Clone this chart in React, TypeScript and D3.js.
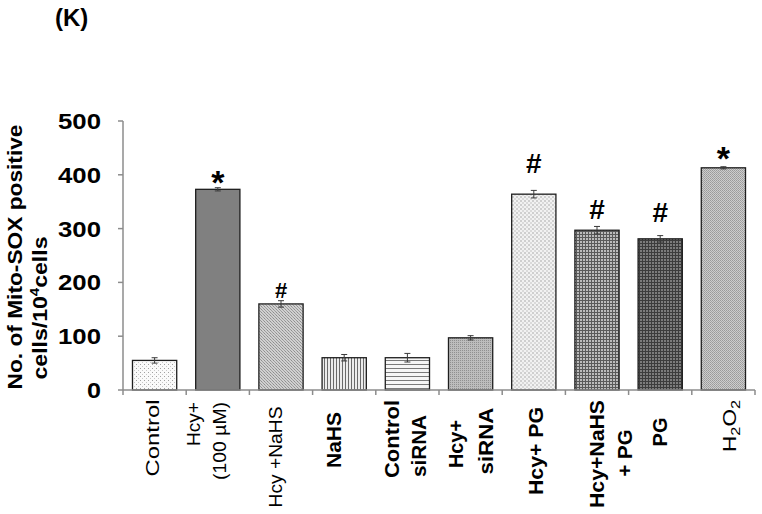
import * as d3 from "d3";
import { useEffect, useRef } from "react";

// values (K)
const categories = ["Control", "Hcy+ (100 µM)", "Hcy +NaHS", "NaHS", "Control siRNA", "Hcy+ siRNA", "Hcy+ PG", "Hcy+NaHS + PG", "PG", "H2O2"];
const values = [55, 373, 160, 60, 60, 97, 364, 297, 281, 413];
const errors = [5, 3, 6, 6, 8, 4, 7, 7, 6, 2];
const marks = ["", "*", "#", "", "", "", "#", "#", "#", "*"];
const yTicks = [0, 100, 200, 300, 400, 500];
const tickLabels = [
  ["Control"],
  ["Hcy+", "(100 µM)"],
  ["Hcy +NaHS"],
  ["NaHS"],
  ["Control", "siRNA"],
  ["Hcy+", "siRNA"],
  ["Hcy+ PG"],
  ["Hcy+NaHS", "+ PG"],
  ["PG"],
  ["H2O2"],
];
const yTitle = ["No. of Mito-SOX positive", "cells/10", "4", "cells"];

// layout / style only
const labelBold = [false, false, false, true, true, true, true, true, true, false];
// per line: [dx from band centre, centre y, length]
const labelPos = [
  [[-2, 438, 77]],
  [[-24, 424, 44], [2, 441, 78]],
  [[-5, 457, 101]],
  [[-10, 440, 56]],
  [[-15, 439, 78], [12, 446, 62]],
  [[-15, 444, 48], [15, 441, 67]],
  [[2, 451, 88]],
  [[0, 454, 108], [28, 453, 47]],
  [[0, 432, 29]],
  [[6, 426, 52]],
];
const markGap = [0, 12, 11, 0, 0, 0, 27, 18, 24, 15];
const markSize = [0, 34, 22, 0, 0, 0, 28, 28, 28, 34];

const FONT = "'Liberation Sans', Arial, sans-serif";

const Chart = () => {
  const ref = useRef(null);

  useEffect(() => {
    d3.select(ref.current).select("svg").remove();

    const W = 762, H = 514;
    const left = 123, right = 755, top = 121, bottom = 390;

    const svg = d3
      .select(ref.current)
      .append("svg")
      .attr("width", W)
      .attr("height", H)
      .style("position", "absolute")
      .style("left", "0px")
      .style("top", "0px")
      .style("background", "#fff");

    const defs = svg.append("defs");
    const pattern = (id, size, bg) => {
      const p = defs
        .append("pattern")
        .attr("id", id)
        .attr("patternUnits", "userSpaceOnUse")
        .attr("width", size)
        .attr("height", size);
      p.append("rect").attr("width", size).attr("height", size).attr("fill", bg);
      return p;
    };

    // bar fills
    const p0 = pattern("p0", 4, "#fafafa");
    p0.append("rect").attr("x", 0).attr("y", 0).attr("width", 1).attr("height", 1).attr("fill", "#a0a0a0");
    p0.append("rect").attr("x", 2).attr("y", 2).attr("width", 1).attr("height", 1).attr("fill", "#c8c8c8");

    const p2 = pattern("p2", 3, "#d0d0d0");
    p2.append("rect").attr("width", 1).attr("height", 1).attr("fill", "#8e8e8e");
    p2.append("rect").attr("x", 1).attr("y", 1).attr("width", 1).attr("height", 1).attr("fill", "#a0a0a0");
    p2.append("rect").attr("x", 2).attr("y", 2).attr("width", 1).attr("height", 1).attr("fill", "#9a9a9a");

    const p3 = pattern("p3", 3, "#ececec");
    p3.append("rect").attr("x", 0).attr("width", 1).attr("height", 3).attr("fill", "#6a6a6a");

    const p4 = pattern("p4", 4, "#f6f6f6");
    p4.append("rect").attr("y", 0).attr("width", 4).attr("height", 1).attr("fill", "#7a7a7a");

    const p5 = pattern("p5", 2, "#bdbdbd");
    p5.append("rect").attr("width", 1).attr("height", 1).attr("fill", "#909090");

    const p6 = pattern("p6", 4, "#f2f2f2");
    p6.append("rect").attr("width", 2).attr("height", 2).attr("fill", "#cfcfcf");
    p6.append("rect").attr("x", 2).attr("y", 2).attr("width", 2).attr("height", 2).attr("fill", "#dadada");

    const p7 = pattern("p7", 3, "#bcbcbc");
    p7.append("rect").attr("width", 3).attr("height", 1).attr("fill", "#5a5a5a");
    p7.append("rect").attr("width", 1).attr("height", 3).attr("fill", "#5a5a5a");

    const p8 = pattern("p8", 3, "#7c7c7c");
    p8.append("rect").attr("width", 3).attr("height", 1).attr("fill", "#3c3c3c");
    p8.append("rect").attr("width", 1).attr("height", 3).attr("fill", "#3c3c3c");

    const p9 = pattern("p9", 2, "#cdcdcd");
    p9.append("rect").attr("width", 1).attr("height", 1).attr("fill", "#9a9a9a");
    p9.append("rect").attr("x", 1).attr("y", 1).attr("width", 1).attr("height", 1).attr("fill", "#a4a4a4");

    const fills = ["url(#p0)", "#808080", "url(#p2)", "url(#p3)", "url(#p4)", "url(#p5)", "url(#p6)", "url(#p7)", "url(#p8)", "url(#p9)"];

    const x = d3.scaleBand().domain(categories).range([left, right]).paddingInner(0.3).paddingOuter(0.15);
    const y = d3.scaleLinear().domain([0, 500]).range([bottom, top]);

    const data = categories.map((c, i) => ({ c, i, v: values[i], e: errors[i] }));

    // bars
    svg
      .append("g")
      .selectAll("rect")
      .data(data)
      .join("rect")
      .attr("x", (d) => x(d.c))
      .attr("y", (d) => y(d.v))
      .attr("width", x.bandwidth())
      .attr("height", (d) => y(0) - y(d.v))
      .attr("fill", (d) => fills[d.i])
      .attr("stroke", "#1e1e1e")
      .attr("stroke-width", 1.3);

    // error bars
    const eb = svg.append("g").attr("stroke", "#3a3a3a").attr("stroke-width", 1);
    data.forEach((d) => {
      const cx = x(d.c) + x.bandwidth() / 2;
      eb.append("line").attr("x1", cx).attr("x2", cx).attr("y1", y(d.v - d.e)).attr("y2", y(d.v + d.e));
      [d.v - d.e, d.v + d.e].forEach((v) => {
        eb.append("line").attr("x1", cx - 3).attr("x2", cx + 3).attr("y1", y(v)).attr("y2", y(v));
      });
    });

    // significance marks
    data.forEach((d) => {
      if (!marks[d.i]) return;
      const fs = markSize[d.i];
      const cy = y(d.v + d.e) - markGap[d.i];
      const base = marks[d.i] === "*" ? cy + 0.55 * fs : cy + 0.36 * fs;
      svg
        .append("text")
        .attr("x", x(d.c) + x.bandwidth() / 2)
        .attr("y", base)
        .attr("text-anchor", "middle")
        .attr("font-family", FONT)
        .attr("font-weight", "bold")
        .attr("font-size", fs)
        .text(marks[d.i]);
    });

    // y axis
    const ya = svg.append("g").attr("stroke", "#8c8c8c").attr("stroke-width", 1.5);
    ya.append("line").attr("x1", left).attr("x2", left).attr("y1", top).attr("y2", bottom);
    yTicks.forEach((t) => {
      ya.append("line").attr("x1", left - 5).attr("x2", left).attr("y1", y(t)).attr("y2", y(t));
    });
    svg
      .append("g")
      .selectAll("text")
      .data(yTicks)
      .join("text")
      .attr("x", 101)
      .attr("y", (t) => y(t))
      .attr("dy", "0.36em")
      .attr("text-anchor", "end")
      .attr("font-family", FONT)
      .attr("font-weight", "bold")
      .attr("font-size", 22)
      .attr("textLength", (t) => (t === 0 ? 14 : 43))
      .attr("lengthAdjust", "spacingAndGlyphs")
      .text((t) => t);

    // x axis
    const xa = svg.append("g").attr("stroke", "#8c8c8c").attr("stroke-width", 1.5);
    xa.append("line").attr("x1", left).attr("x2", right).attr("y1", bottom).attr("y2", bottom);
    const step = x.step();
    d3.range(categories.length + 1).forEach((i) => {
      const bx = left + i * step;
      xa.append("line").attr("x1", bx).attr("x2", bx).attr("y1", bottom).attr("y2", bottom + 5);
    });

    // category labels, rotated
    data.forEach((d) => {
      const cx = x(d.c) + x.bandwidth() / 2;
      tickLabels[d.i].forEach((line, j) => {
        const [dx, cy, len] = labelPos[d.i][j];
        const t = svg
          .append("text")
          .attr("transform", `translate(${cx + dx},${cy}) rotate(-90)`)
          .attr("text-anchor", "middle")
          .attr("dy", "0.35em")
          .attr("font-family", FONT)
          .attr("font-weight", labelBold[d.i] ? "bold" : "normal")
          .attr("font-size", labelBold[d.i] ? 20 : 18)
          .attr("textLength", len)
          .attr("lengthAdjust", "spacingAndGlyphs");
        if (line === "H2O2") {
          t.append("tspan").text("H");
          t.append("tspan").attr("font-size", 13).attr("dy", 4).text("2");
          t.append("tspan").attr("dy", -4).text("O");
          t.append("tspan").attr("font-size", 13).attr("dy", 4).text("2");
        } else {
          t.text(line);
        }
      });
    });

    // y title
    svg
      .append("text")
      .attr("transform", "translate(22,257) rotate(-90)")
      .attr("text-anchor", "middle")
      .attr("font-family", FONT)
      .attr("font-weight", "bold")
      .attr("font-size", 20)
      .attr("textLength", 265)
      .attr("lengthAdjust", "spacingAndGlyphs")
      .text(yTitle[0]);
    const t2 = svg
      .append("text")
      .attr("transform", "translate(47,308) rotate(-90)")
      .attr("text-anchor", "middle")
      .attr("font-family", FONT)
      .attr("font-weight", "bold")
      .attr("font-size", 20)
      .attr("textLength", 143)
      .attr("lengthAdjust", "spacingAndGlyphs");
    t2.append("tspan").text(yTitle[1]);
    t2.append("tspan").attr("font-size", 13).attr("dy", -8).text(yTitle[2]);
    t2.append("tspan").attr("dy", 8).text(yTitle[3]);

    // panel letter
    svg
      .append("text")
      .attr("x", 55)
      .attr("y", 26)
      .attr("font-family", FONT)
      .attr("font-weight", "bold")
      .attr("font-size", 24)
      .text("(K)");
  }, []);

  return <div ref={ref} />;
};

export default function App() {
  return <Chart />;
}
